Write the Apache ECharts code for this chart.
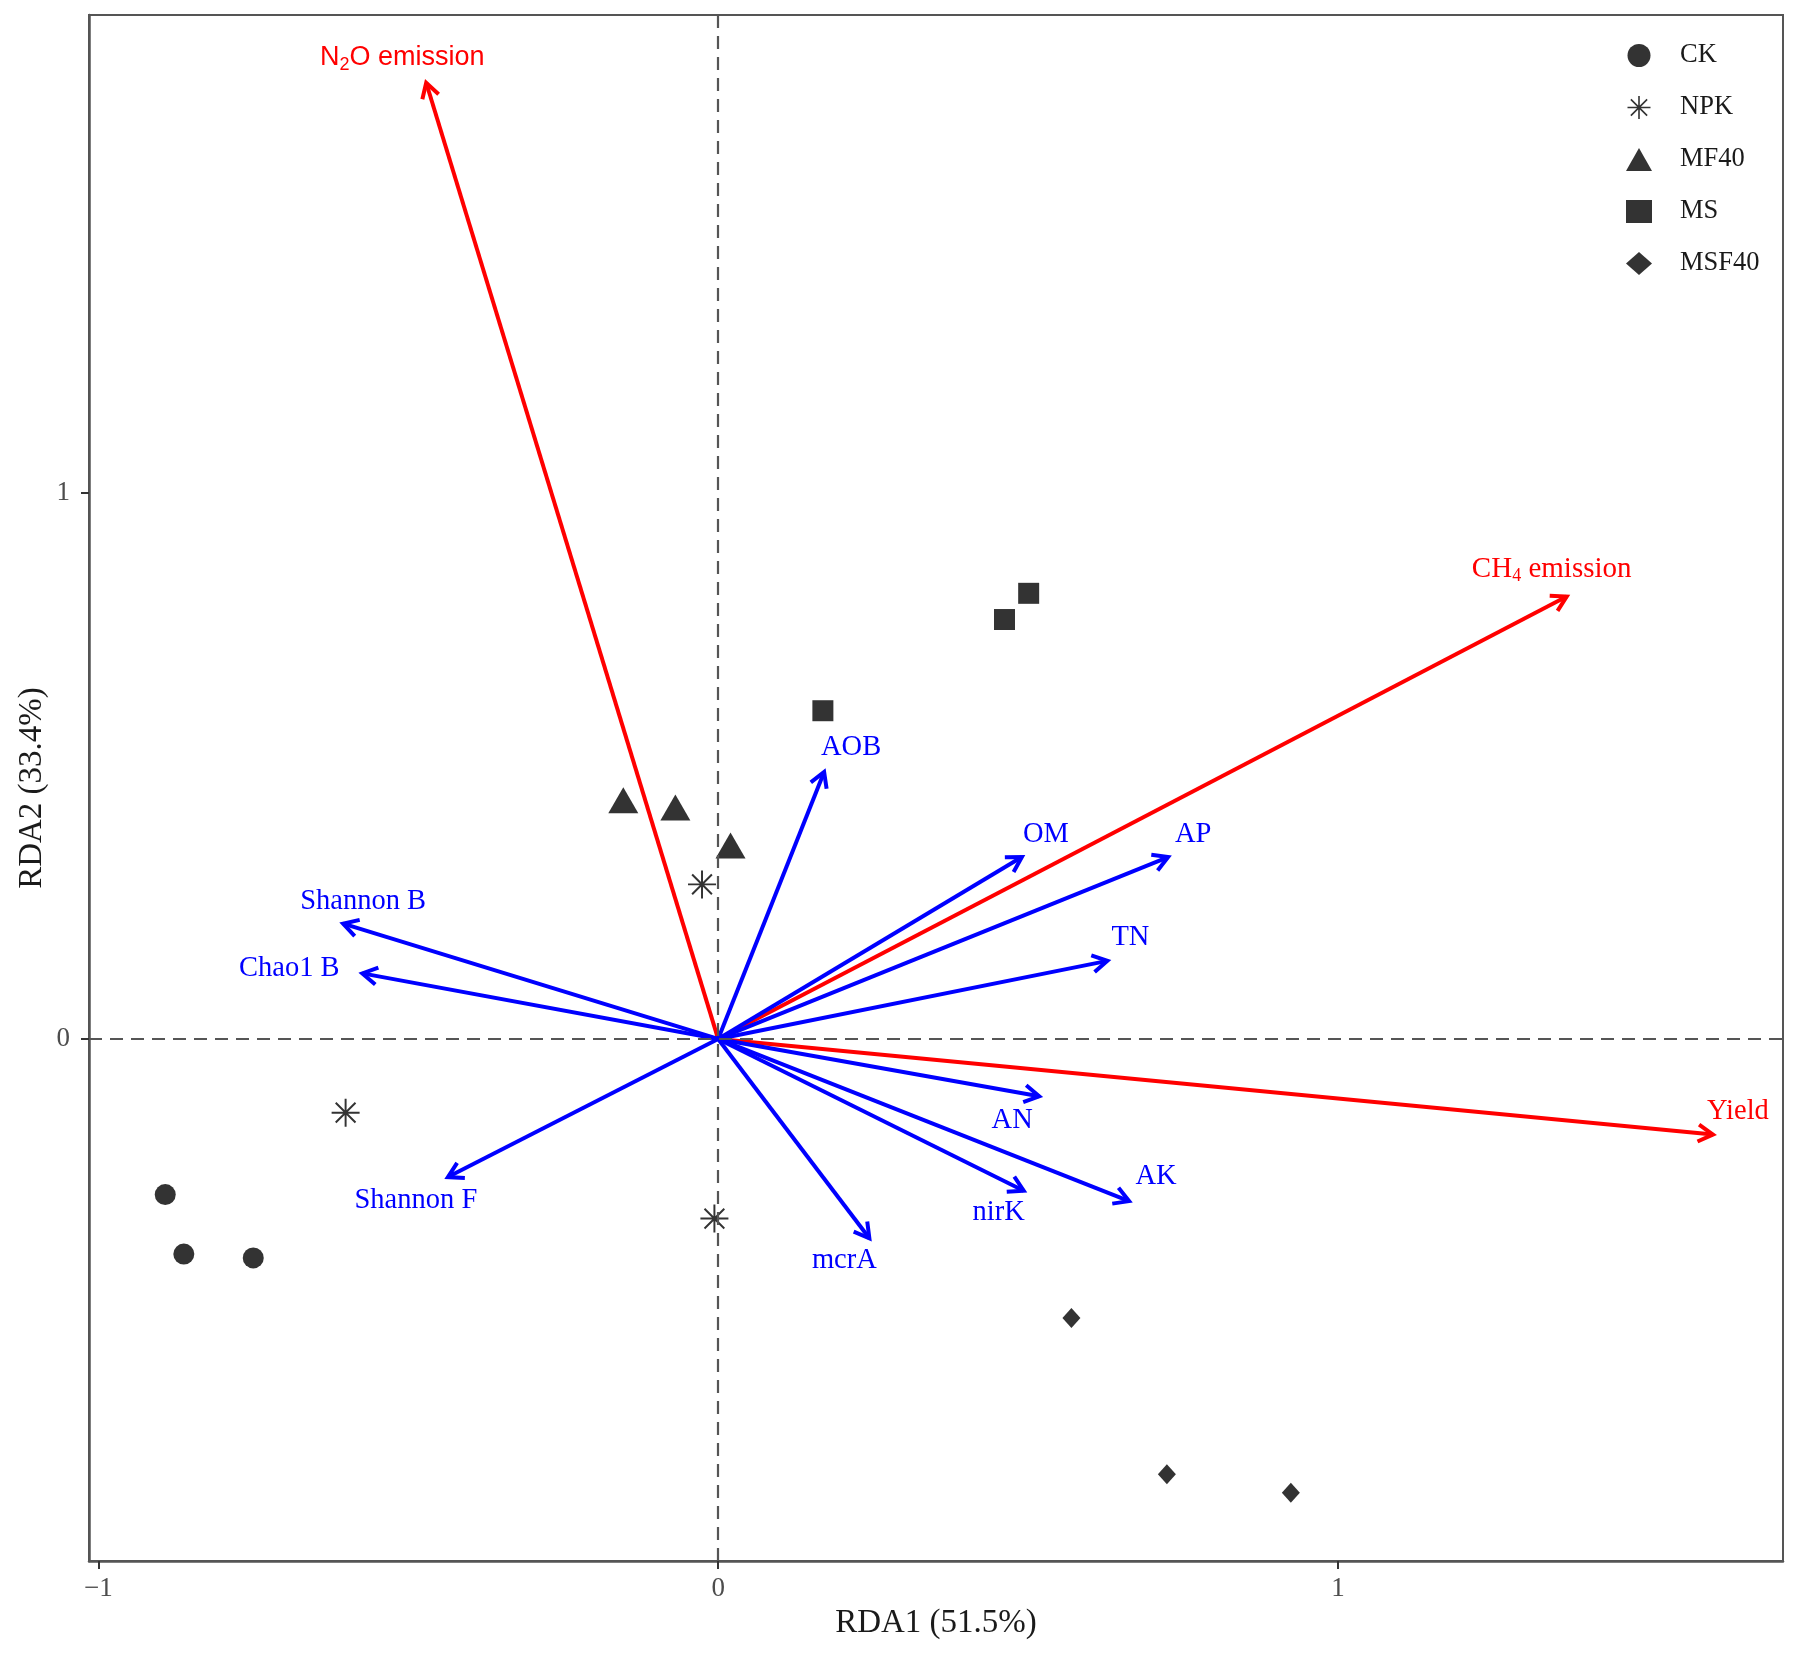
<!DOCTYPE html>
<html>
<head>
<meta charset="utf-8">
<title>RDA biplot</title>
<script src="https://cdn.jsdelivr.net/npm/echarts@6/dist/echarts.min.js"></script>
<style>
  html, body { margin: 0; padding: 0; background: #fff; }
  #rda { width: 1804px; height: 1656px; }
</style>
</head>
<body>
<div id="rda"></div>
<script type="text/javascript">
// sample scores (RDA1, RDA2)
var groups = ['CK', 'NPK', 'MF40', 'MS', 'MSF40'];
var ckPts = [[-0.892, -0.285], [-0.862, -0.394], [-0.750, -0.401]];
var npkPts = [[-0.601, -0.135], [-0.026, 0.283], [-0.006, -0.329]];
var mf40Pts = [[-0.153, 0.437], [-0.069, 0.424], [0.020, 0.354]];
var msPts = [[0.169, 0.601], [0.462, 0.768], [0.501, 0.816]];
var msf40Pts = [[0.570, -0.511], [0.724, -0.797], [0.924, -0.831]];

// response variables (red arrows)
var respNames = ['N2O emission', 'CH4 emission', 'Yield'];
var respX = [-0.471, 1.369, 1.605];
var respY = [1.751, 0.810, -0.175];

// soil / microbial variables (blue arrows)
var envNames = ['AOB', 'OM', 'AP', 'TN', 'AN', 'AK', 'nirK', 'mcrA', 'Shannon F', 'Shannon B', 'Chao1 B'];
var envX = [0.171, 0.490, 0.726, 0.628, 0.518, 0.663, 0.493, 0.244, -0.436, -0.605, -0.574];
var envY = [0.489, 0.333, 0.333, 0.143, -0.105, -0.297, -0.278, -0.365, -0.253, 0.211, 0.120];

var xTicks = [-1, 0, 1];
var yTicks = [0, 1];

// label placement relative to arrow tip (px)
var labelOffset = {
    'N2O emission': [-24, -25], 'CH4 emission': [-15, -27], 'Yield': [25, -23],
    'AOB': [27, -24], 'OM': [24, -23], 'AP': [25, -23], 'TN': [23, -23],
    'AN': [-27, 24], 'AK': [27, -25], 'nirK': [-25, 22], 'mcrA': [-25, 22],
    'Shannon F': [-32, 23], 'Shannon B': [20, -22], 'Chao1 B': [-73, -5]
};
var labelRich = {
    'N2O emission': '{s|N}{ss|2}{s|O emission}',
    'CH4 emission': '{r|CH}{rs|4}{r| emission}'
};

var SERIF = '"Liberation Serif", "DejaVu Serif", serif';
var SANS = '"Liberation Sans", Arial, sans-serif';
var starPath = 'path://M0 9.3L20 9.3L20 10.7L0 10.7Z M9.3 0L10.7 0L10.7 20L9.3 20Z ' +
    'M2.44 3.43L3.43 2.44L17.56 16.57L16.57 17.56Z M3.43 17.56L2.44 16.57L16.57 2.44L17.56 3.43Z';

function toData(xs, ys) {
    return xs.map(function (x, i) { return [x, ys[i]]; });
}

function arrowRender(names, color) {
    return function (params, api) {
        var o = api.coord([0, 0]);
        var t = api.coord([api.value(0), api.value(1)]);
        var ang = Math.atan2(t[1] - o[1], t[0] - o[0]);
        var hl = 17, ha = Math.PI / 6;
        var p1 = [t[0] - hl * Math.cos(ang - ha), t[1] - hl * Math.sin(ang - ha)];
        var p2 = [t[0] - hl * Math.cos(ang + ha), t[1] - hl * Math.sin(ang + ha)];
        var name = names[params.dataIndex];
        var off = labelOffset[name] || [0, -20];
        var textStyle = {
            text: labelRich[name] || name,
            fill: color,
            fontFamily: SERIF,
            fontSize: 28.5,
            align: 'center',
            verticalAlign: 'middle',
            rich: {
                s: { fontFamily: SANS, fontSize: 27, lineHeight: 32, fill: color },
                ss: { fontFamily: SANS, fontSize: 18, lineHeight: 15, verticalAlign: 'bottom', fill: color },
                r: { fontFamily: SERIF, fontSize: 29, lineHeight: 32, fill: color },
                rs: { fontFamily: SERIF, fontSize: 18, lineHeight: 15, verticalAlign: 'bottom', fill: color }
            }
        };
        return {
            type: 'group',
            children: [
                { type: 'line', shape: { x1: o[0], y1: o[1], x2: t[0], y2: t[1] },
                  style: { stroke: color, lineWidth: 4 } },
                { type: 'polyline', shape: { points: [p1, t, p2] },
                  style: { stroke: color, lineWidth: 4, fill: null, lineJoin: 'miter' } },
                { type: 'text', x: t[0] + off[0], y: t[1] + off[1], style: textStyle }
            ]
        };
    };
}

var chart = echarts.init(document.getElementById('rda'));
var pointStyle = { color: '#333333', opacity: 1 };

var option = {
    backgroundColor: '#ffffff',
    animation: false,
    grid: {
        left: 89, right: 21, top: 15, bottom: 95,
        containLabel: false, outerBoundsMode: 'none',
        show: true, borderColor: '#555555', borderWidth: 2
    },
    legend: {
        data: groups,
        orient: 'vertical',
        left: 1626, top: 42,
        padding: 0,
        itemWidth: 26, itemHeight: 23, itemGap: 25,
        textStyle: { fontFamily: SERIF, fontSize: 26.5, color: '#1a1a1a', lineHeight: 24, padding: [0, 0, 0, 23] }
    },
    xAxis: {
        type: 'value',
        min: -1.015, max: 1.718,
        name: 'RDA1 (51.5%)',
        nameLocation: 'middle', nameGap: 46, nameMoveOverlap: false,
        nameTextStyle: { fontFamily: SERIF, fontSize: 33, color: '#1a1a1a' },
        axisLine: { show: true, onZero: false, lineStyle: { color: '#555555', width: 2.5 } },
        axisTick: { show: true, customValues: xTicks, length: 8, lineStyle: { color: '#333333', width: 2 } },
        axisLabel: {
            customValues: xTicks, margin: 14, fontFamily: SERIF, fontSize: 27, color: '#4d4d4d',
            formatter: function (v) { return v < 0 ? '\u2212' + Math.abs(v) : String(v); }
        },
        splitLine: { show: false }
    },
    yAxis: {
        type: 'value',
        min: -0.956, max: 1.875,
        name: 'RDA2 (33.4%)',
        nameLocation: 'middle', nameGap: 40, nameMoveOverlap: false,
        nameTextStyle: { fontFamily: SERIF, fontSize: 33, color: '#1a1a1a' },
        axisLine: { show: true, onZero: false, lineStyle: { color: '#555555', width: 2.5 } },
        axisTick: { show: true, customValues: yTicks, length: 8, lineStyle: { color: '#333333', width: 2 } },
        axisLabel: { customValues: yTicks, margin: 19, fontFamily: SERIF, fontSize: 27, color: '#4d4d4d' },
        splitLine: { show: false }
    },
    series: [
        {
            name: 'zero', type: 'scatter', data: [], z: 1, silent: true,
            markLine: {
                silent: true, symbol: 'none', animation: false,
                label: { show: false },
                lineStyle: { color: '#555555', width: 2.2, type: [13, 8] },
                data: [{ xAxis: 0 }, { yAxis: 0 }]
            }
        },
        {
            name: 'response', type: 'custom', z: 2, silent: true,
            renderItem: arrowRender(respNames, '#ff0000'),
            data: toData(respX, respY)
        },
        {
            name: 'explanatory', type: 'custom', z: 2, silent: true,
            renderItem: arrowRender(envNames, '#0000ff'),
            data: toData(envX, envY)
        },
        { name: 'CK', type: 'scatter', z: 3, symbol: 'circle', symbolSize: 21, itemStyle: pointStyle, data: ckPts },
        { name: 'NPK', type: 'scatter', z: 3, symbol: starPath, symbolSize: 28, itemStyle: pointStyle, data: npkPts },
        { name: 'MF40', type: 'scatter', z: 3, symbol: 'triangle', symbolSize: [30, 26], itemStyle: pointStyle, data: mf40Pts },
        { name: 'MS', type: 'scatter', z: 3, symbol: 'rect', symbolSize: 21, itemStyle: pointStyle, data: msPts },
        { name: 'MSF40', type: 'scatter', z: 3, symbol: 'diamond', symbolSize: [18, 20], itemStyle: pointStyle, data: msf40Pts }
    ]
};

chart.setOption(option);
</script>
</body>
</html>
